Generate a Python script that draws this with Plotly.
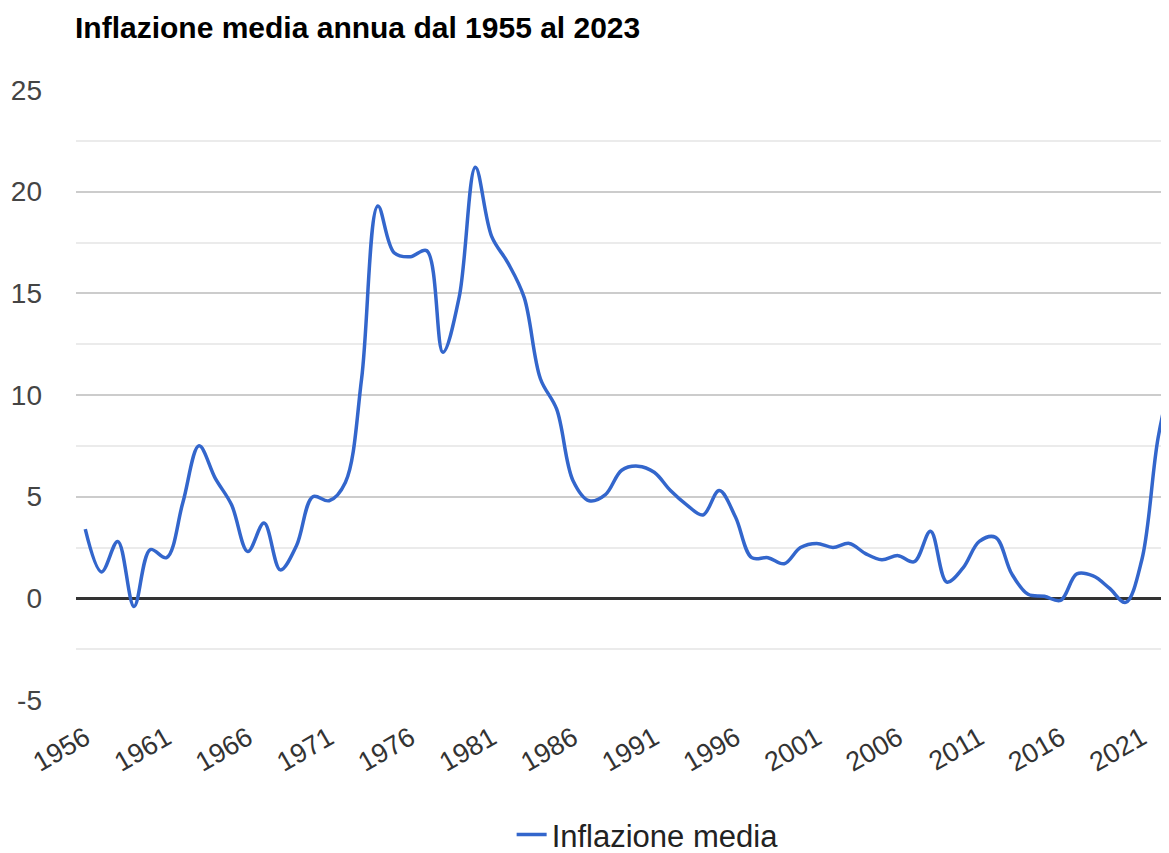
import plotly.graph_objects as go

years = list(range(1956, 2024))
inflazione = [
    3.4, 1.3, 2.8, -0.4, 2.4, 2.0, 4.7, 7.5, 5.9, 4.6,
    2.3, 3.7, 1.4, 2.6, 5.0, 4.8, 5.7, 10.8, 19.3, 17.0,
    16.8, 17.1, 12.1, 14.8, 21.2, 17.8, 16.5, 14.8, 10.8, 9.3,
    5.8, 4.8, 5.1, 6.3, 6.5, 6.2, 5.3, 4.6, 4.1, 5.3,
    4.0, 2.0, 2.0, 1.7, 2.5, 2.7, 2.5, 2.7, 2.2, 1.9,
    2.1, 1.8, 3.3, 0.8, 1.5, 2.8, 3.0, 1.2, 0.2, 0.1,
    -0.1, 1.2, 1.1, 0.5, -0.2, 1.9, 7.9, 11.5,
]
tick_years = list(range(1956, 2022, 5))
y_ticks = [-5, 0, 5, 10, 15, 20, 25]

font = "Liberation Sans, Arial, sans-serif"

# page has an 8px body margin, so the figure is sized/positioned to compensate
W, H = 1161, 845

fig = go.Figure()
fig.add_trace(go.Scatter(
    x=years, y=inflazione, mode="lines", name="Inflazione media",
    line=dict(color="#3366cc", width=3.5, shape="spline", smoothing=1.0),
))

fig.update_layout(
    width=W, height=H,
    margin=dict(l=68, r=0, t=82, b=153, autoexpand=False),
    paper_bgcolor="white", plot_bgcolor="white",
    title=dict(text="<b>Inflazione media annua dal 1955 al 2023</b>",
               x=67 / W, xanchor="left", y=1 - 19 / H, yanchor="middle",
               pad=dict(t=0, b=0, l=0, r=0),
               font=dict(family=font, size=30, color="#000")),
    showlegend=True,
    legend=dict(orientation="h", x=0.523, xanchor="center", y=-0.221, yanchor="middle",
                font=dict(family=font, size=31, color="#222"), bgcolor="rgba(0,0,0,0)"),
    font=dict(family=font, size=26, color="#444"),
)

fig.update_xaxes(
    range=[1955.43, 2022.67], tickmode="array", tickvals=tick_years,
    ticktext=[str(y) for y in tick_years], tickangle=-30,
    showgrid=False, zeroline=False, showline=False, ticks="",
    ticklabelstandoff=16, automargin=False,
    tickfont=dict(family=font, size=27, color="#333"),
)
fig.update_yaxes(
    range=[-5, 25], tickmode="array", tickvals=y_ticks,
    ticktext=[str(v) for v in y_ticks],
    showgrid=True, gridcolor="#cccccc", gridwidth=1.5,
    minor=dict(dtick=2.5, showgrid=True, gridcolor="#ebebeb", gridwidth=1.5),
    zeroline=True, zerolinecolor="#333333", zerolinewidth=2.5,
    showline=False, ticks="", ticklabelstandoff=33, automargin=False,
    tickfont=dict(family=font, size=28, color="#444"),
)

fig.write_html("out.html")
